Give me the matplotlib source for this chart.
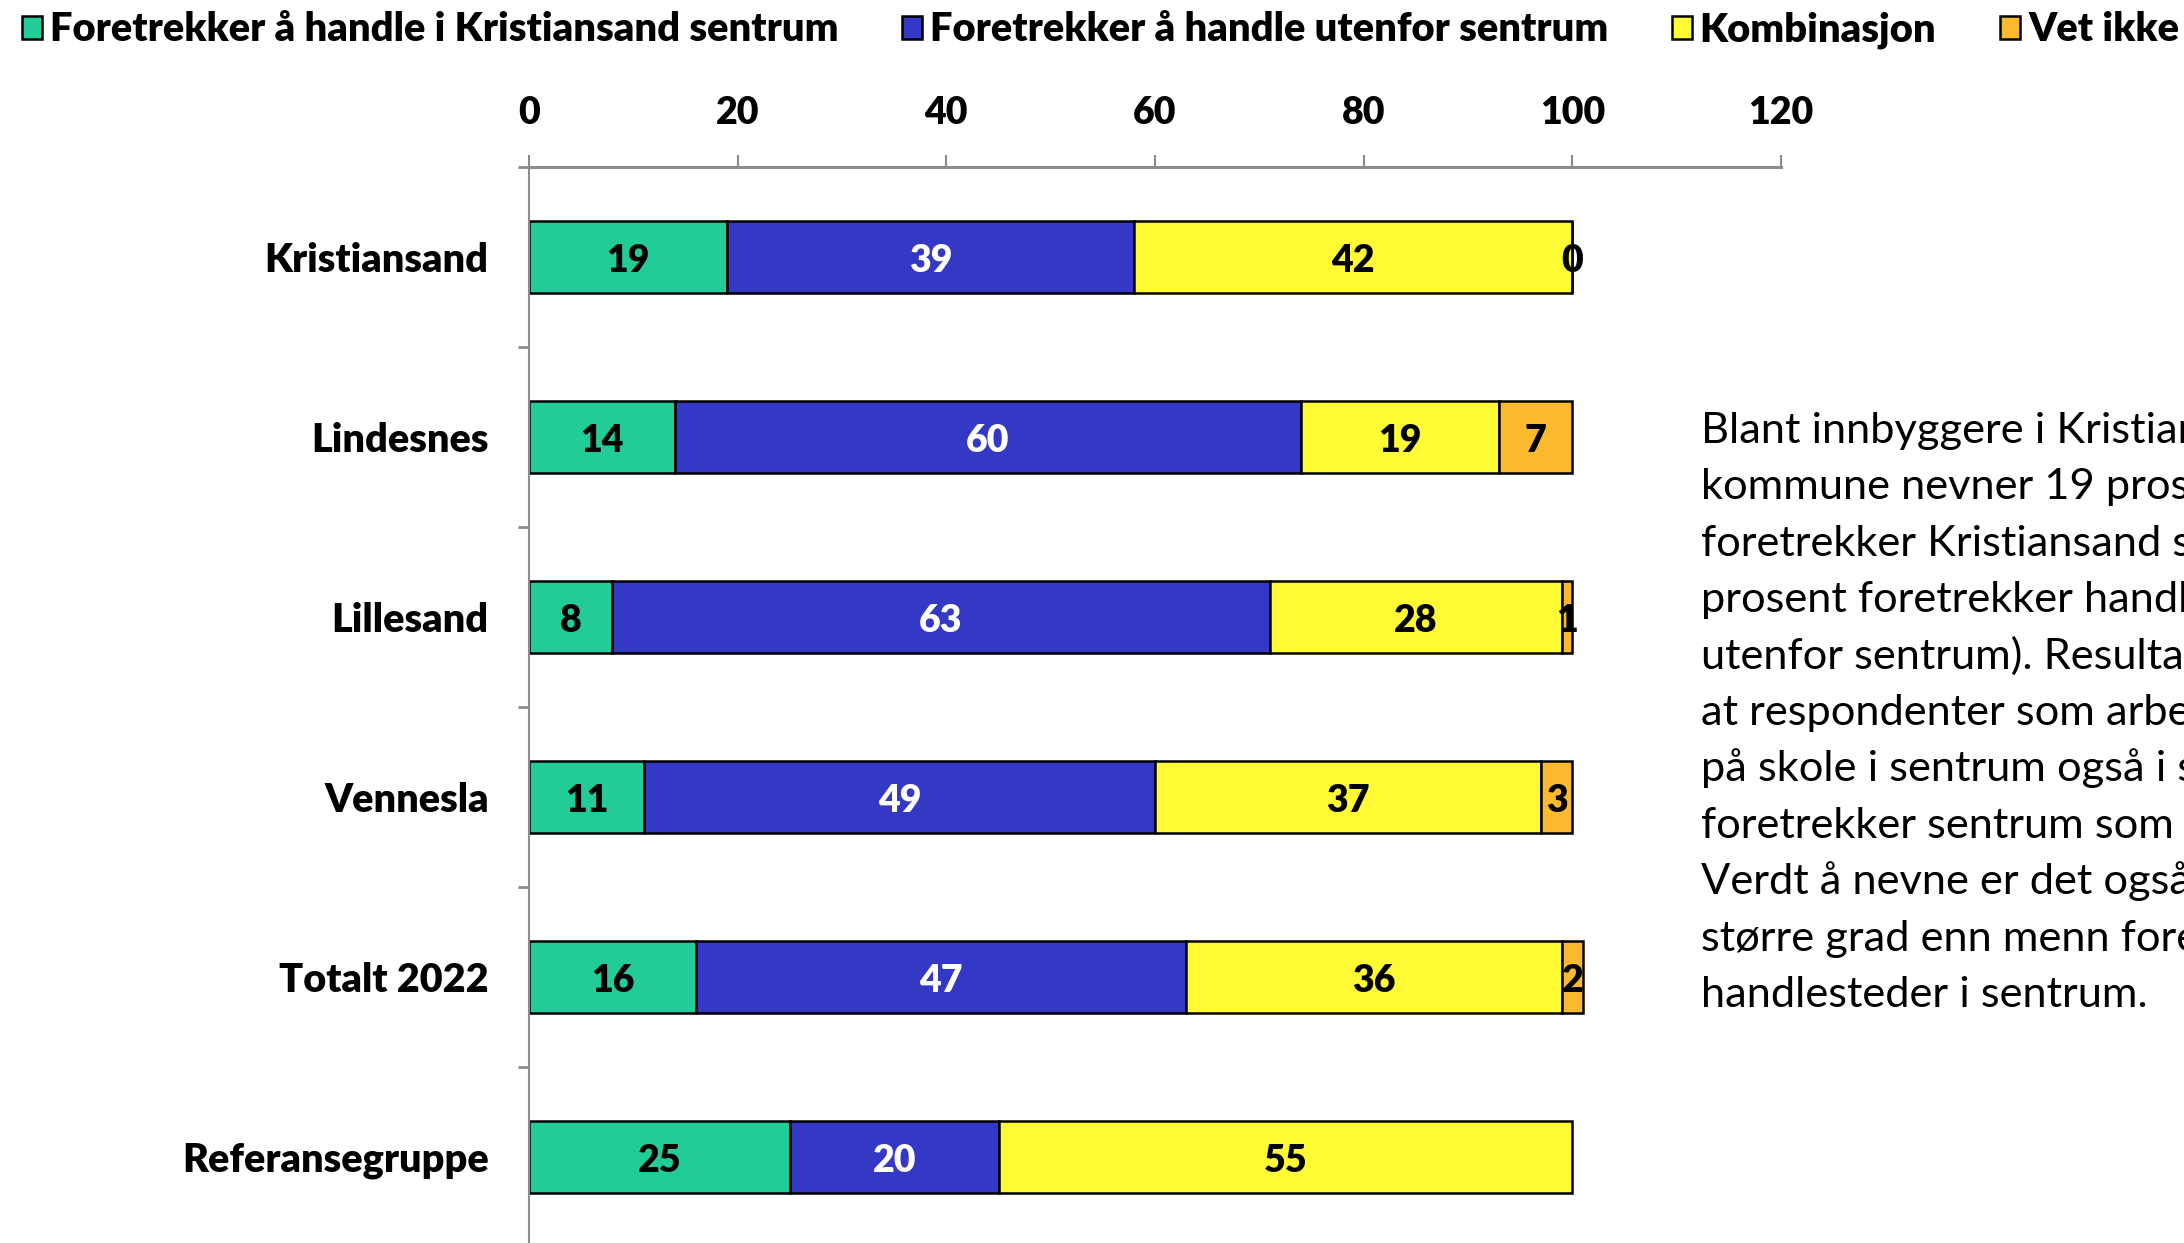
import matplotlib
matplotlib.use('Agg')
import matplotlib.pyplot as plt
from matplotlib.ticker import FixedLocator
import numpy as np

# ---- data ----
categories = ['Kristiansand', 'Lindesnes', 'Lillesand', 'Vennesla', 'Totalt 2022', 'Referansegruppe']
series_names = ['Foretrekker å handle i Kristiansand sentrum',
                'Foretrekker å handle utenfor sentrum',
                'Kombinasjon',
                'Vet ikke']
sentrum = [19, 14, 8, 11, 16, 25]
utenfor = [39, 60, 63, 49, 47, 20]
kombinasjon = [42, 19, 28, 37, 36, 55]
vet_ikke = [0, 7, 1, 3, 2, np.nan]
x_ticks = [0, 20, 40, 60, 80, 100, 120]
paragraph_lines = [
    'Blant innbyggere i Kristiansand',
    'kommune nevner 19 prosent at de',
    'foretrekker Kristiansand sentrum (39',
    'prosent foretrekker handlesteder',
    'utenfor sentrum). Resultatene viser',
    'at respondenter som arbeider eller går',
    'på skole i sentrum også i større grad',
    'foretrekker sentrum som handlested.',
    'Verdt å nevne er det også at kvinner i',
    'større grad enn menn foretrekker',
    'handlesteder i sentrum.',
]

colors = ['#21CC98', '#3439C5', '#FFFA33', '#FBBA2E']
label_colors = ['black', 'white', 'black', 'black']

W, H = 2184, 1243
DPI = 100
plt.rcParams['font.family'] = ['Lato', 'DejaVu Sans']
WEIGHT = 'heavy'

fig = plt.figure(figsize=(W / DPI, H / DPI), dpi=DPI)
fig.patch.set_facecolor('white')

# axes placement (pixels)
x0_px, x120_px = 529, 1781
top_px, bot_px = 167, 1247
ax = fig.add_axes([x0_px / W, 1 - bot_px / H, (x120_px - x0_px) / W, (bot_px - top_px) / H])

y = np.arange(len(categories))
data = [np.array(sentrum, float), np.array(utenfor, float),
        np.array(kombinasjon, float), np.array(vet_ikke, float)]
left = np.zeros(len(categories))
for vals, name, col, lc in zip(data, series_names, colors, label_colors):
    cont = ax.barh(y, vals, left=left, height=0.4, color=col, edgecolor='black',
                   linewidth=1.8, label=name)
    labels = ['' if np.isnan(v) else f'{int(v)}' for v in vals]
    anns = ax.bar_label(cont, labels=labels, label_type='center', color=lc,
                        fontsize=27, fontweight=WEIGHT)
    for a in anns:
        a.set_position((0, -3))
    left = left + np.nan_to_num(vals)

ax.set_xlim(0, 120)
ax.set_ylim(len(categories) - 0.5, -0.5)

# x axis on top
ax.xaxis.set_ticks_position('top')
ax.xaxis.set_label_position('top')
ax.set_xticks(x_ticks)
ax.set_xticklabels([str(t) for t in x_ticks], fontsize=27, fontweight=WEIGHT)
ax.tick_params(axis='x', direction='out', length=9, width=1.5, color='#8C8C8C', pad=18)

# y axis: labels at centres, ticks at category boundaries
ax.set_yticks(y)
ax.set_yticklabels(categories, fontsize=28.5, fontweight=WEIGHT)
ax.tick_params(axis='y', which='major', length=0, pad=29)
ax.yaxis.set_minor_locator(FixedLocator(np.arange(-0.5, len(categories), 1.0)))
ax.tick_params(axis='y', which='minor', direction='out', length=8, width=2, color='#8C8C8C')

for s in ['right', 'bottom']:
    ax.spines[s].set_visible(False)
ax.spines['top'].set_color('#8C8C8C')
ax.spines['top'].set_linewidth(2.2)
ax.spines['left'].set_color('#8C8C8C')
ax.spines['left'].set_linewidth(1.5)

# legend
handles, labs = ax.get_legend_handles_labels()
fig.legend(handles, labs, loc='upper left', bbox_to_anchor=(-0.001, 1.01), ncol=4,
           frameon=False, prop={'size': 28.7, 'weight': WEIGHT},
           handlelength=0.5, handleheight=0.5, handletextpad=0.2,
           columnspacing=1.6, borderaxespad=0.2)

# paragraph text
para_x = 1701 / W
for i, line in enumerate(paragraph_lines):
    yb = 443 + i * 56.4
    fig.text(para_x, 1 - yb / H, line, ha='left', va='baseline', fontsize=31.2, color='black')

fig.savefig('out.png', dpi=DPI, facecolor='white')
